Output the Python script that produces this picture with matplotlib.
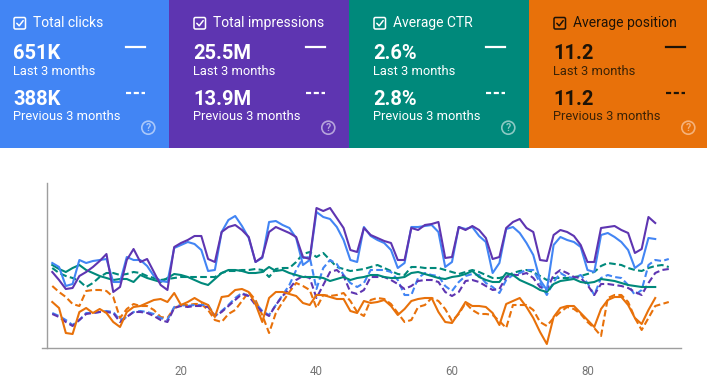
import numpy as np
import matplotlib
matplotlib.use("Agg")
import matplotlib.pyplot as plt
from matplotlib.patches import Rectangle, FancyBboxPatch, Circle

plt.rcParams['font.family'] = ['Roboto', 'DejaVu Sans']

# summary tiles
tile_titles = ["Total clicks", "Total impressions", "Average CTR", "Average position"]
last_vals = ["651K", "25.5M", "2.6%", "11.2"]
prev_vals = ["388K", "13.9M", "2.8%", "11.2"]
last_label = "Last 3 months"
prev_label = "Previous 3 months"
tile_colors = ["#4285f4", "#5e35b1", "#00897b", "#e8710a"]

# daily values, chart height units (no y scale shown)
clicks_last = [85, 81, 62, 64, 88, 85, 87, 88, 89, 66, 66, 91, 88, 88, 82, 72, 67, 66, 100, 103,
               106, 104, 98, 77, 78, 116, 128, 132, 122, 110, 86, 90, 126, 127, 123, 120, 110, 83, 88, 136,
               131, 129, 121, 108, 88, 86, 121, 112, 108, 105, 98, 80, 85, 121, 121, 122, 123, 116, 81, 86,
               121, 119, 121, 112, 106, 75, 85, 119, 121, 115, 105, 93, 68, 58, 103, 111, 108, 106, 101, 78,
               76, 113, 115, 111, 106, 98, 80, 85, 110, 109]
impr_last = [76, 68, 59, 60, 72, 76, 81, 87, 94, 56, 61, 88, 99, 86, 89, 76, 63, 58, 101, 105,
             108, 112, 112, 89, 86, 116, 121, 123, 118, 111, 86, 91, 116, 121, 118, 115, 111, 91, 89, 140,
             137, 140, 130, 120, 98, 96, 120, 113, 110, 107, 105, 88, 88, 120, 118, 123, 124, 126, 90, 91,
             121, 118, 122, 118, 110, 89, 91, 120, 126, 129, 120, 116, 88, 87, 113, 118, 116, 112, 103, 86,
             86, 120, 121, 122, 118, 115, 95, 99, 131, 125]
ctr_last = [83, 79, 76, 80, 83, 78, 75, 72, 70, 68, 69, 69, 66, 73, 70, 68, 66, 70, 74, 73,
            71, 68, 65, 63, 69, 75, 78, 78, 77, 75, 75, 76, 81, 77, 78, 75, 73, 71, 71, 71,
            70, 67, 69, 71, 68, 70, 71, 73, 73, 71, 70, 70, 71, 75, 76, 74, 72, 70, 69, 71,
            72, 74, 77, 71, 68, 66, 66, 75, 73, 68, 65, 62, 58, 56, 64, 67, 68, 69, 66, 65,
            66, 69, 68, 67, 65, 63, 62, 61, 61, 61]
pos_last = [46, 40, 15, 14, 36, 40, 35, 39, 35, 26, 21, 36, 41, 42, 45, 48, 49, 46, 55, 43,
            46, 50, 46, 43, 31, 51, 52, 58, 59, 56, 44, 26, 50, 56, 56, 54, 52, 45, 43, 53,
            53, 51, 49, 49, 37, 35, 47, 45, 46, 48, 42, 33, 39, 47, 49, 50, 50, 36, 26, 25,
            35, 46, 42, 42, 41, 35, 23, 44, 47, 50, 41, 30, 16, 4, 31, 40, 42, 42, 35, 28,
            21, 39, 48, 51, 51, 43, 30, 24, 38, 50]

clicks_prev = [35, 32, 28, 23, 28, 35, 35, 36, 37, 36, 28, 31, 36, 37, 36, 34, 30, 28, 41, 43,
               42, 43, 43, 43, 32, 37, 43, 50, 55, 52, 45, 37, 33, 43, 53, 63, 78, 90, 91, 59,
               80, 88, 84, 73, 65, 61, 65, 78, 78, 78, 76, 68, 53, 53, 70, 75, 73, 72, 62, 57,
               66, 72, 74, 73, 65, 61, 55, 68, 73, 75, 78, 78, 65, 53, 66, 75, 71, 70, 73, 65,
               53, 70, 73, 71, 70, 63, 53, 58, 83, 88, 87, 89]
impr_prev = [34, 31, 26, 22, 28, 34, 35, 36, 36, 35, 26, 31, 36, 36, 35, 32, 28, 26, 40, 42,
             41, 42, 42, 41, 32, 36, 42, 48, 54, 52, 43, 36, 32, 43, 52, 59, 68, 72, 70, 50,
             63, 76, 78, 72, 56, 54, 58, 71, 71, 71, 68, 64, 59, 62, 67, 68, 68, 66, 56, 52,
             56, 67, 68, 66, 62, 58, 59, 71, 73, 73, 75, 70, 61, 58, 73, 78, 75, 71, 70, 63,
             53, 64, 64, 63, 62, 60, 56, 53, 65, 75, 78, 79]
ctr_prev = [80, 75, 72, 70, 67, 61, 65, 71, 75, 75, 73, 74, 76, 75, 72, 70, 68, 69, 70, 71,
            71, 71, 71, 71, 71, 75, 77, 77, 78, 78, 79, 78, 71, 79, 80, 80, 86, 94, 96, 91,
            95, 88, 81, 79, 77, 78, 79, 81, 83, 80, 77, 74, 73, 81, 81, 80, 80, 80, 78, 76,
            74, 76, 78, 76, 73, 70, 70, 72, 75, 77, 78, 76, 72, 68, 70, 70, 70, 71, 72, 74,
            76, 82, 85, 84, 83, 80, 78, 77, 80, 82, 83, 81]
pos_prev = [62, 56, 51, 44, 42, 57, 58, 58, 57, 51, 30, 39, 44, 42, 42, 38, 31, 30, 40, 43,
            43, 44, 44, 38, 28, 26, 34, 38, 47, 56, 48, 33, 15, 35, 46, 56, 65, 62, 58, 40,
            53, 52, 53, 55, 47, 36, 32, 48, 50, 49, 44, 35, 26, 28, 41, 43, 50, 47, 39, 27,
            34, 45, 38, 34, 34, 33, 27, 20, 43, 43, 43, 38, 26, 22, 30, 36, 41, 39, 34, 26,
            20, 12, 50, 53, 53, 46, 30, 18, 30, 42, 44, 46]

days_last = np.arange(1, len(clicks_last) + 1)
days_prev = np.arange(1, len(clicks_prev) + 1)
xticks = [20, 40, 60, 80]

W, H = 707, 392
fig = plt.figure(figsize=(W / 100, H / 100), dpi=100)

# background layer in pixel units for the tiles
bg = fig.add_axes([0, 0, 1, 1])
bg.set_xlim(0, W)
bg.set_ylim(H, 0)
bg.axis("off")

tile_left = [-11, 169, 349, 529]
for k in range(4):
    x0 = tile_left[k]
    bg.add_patch(Rectangle((x0, 0), 180, 148, color=tile_colors[k], lw=0))
    dark = k == 3
    fg = "#1d1307" if dark else "white"
    sub = "#3a2206" if dark else "white"
    icon = "#f5b27a" if dark else (1, 1, 1, 0.55)
    # checkbox
    bg.add_patch(FancyBboxPatch((x0 + 25, 17.5), 11.5, 11.5,
                                boxstyle="round,pad=0,rounding_size=1.5",
                                fill=False, ec=fg, lw=1.1))
    bg.plot([x0 + 27.8, x0 + 30.2, x0 + 34.2], [23.3, 25.8, 20.6], color=fg, lw=1.1,
            solid_capstyle="round")
    bg.text(x0 + 44, 27.3, tile_titles[k], color=fg, fontsize=10, va="baseline", ha="left")
    bg.text(x0 + 24.3, 58.5, last_vals[k], color=fg, fontsize=14.5, fontweight="bold",
            va="baseline", ha="left")
    bg.text(x0 + 24.3, 75, last_label, color=sub, fontsize=9.3, va="baseline", ha="left")
    bg.text(x0 + 24.3, 104.5, prev_vals[k], color=fg, fontsize=14.5, fontweight="bold",
            va="baseline", ha="left")
    bg.text(x0 + 24.3, 120.3, prev_label, color=sub, fontsize=9.3, va="baseline", ha="left")
    # line style keys
    bg.plot([x0 + 137, x0 + 156], [46.5, 46.5], color=fg, lw=1.6)
    bg.plot([x0 + 137, x0 + 156], [93, 93], color=fg, lw=1.6, dashes=(2.3, 1.2))
    # help icon
    bg.add_patch(Circle((x0 + 159.3, 127.7), 6.5, fill=False, ec=icon, lw=1.2))
    bg.text(x0 + 159.3, 128.2, "?", color=icon, fontsize=7.5, fontweight="bold",
            ha="center", va="center")

# line chart
ax = fig.add_axes([41.7 / W, 1 - 348 / H, (680.7 - 41.7) / W, 165 / H])
ax.set_xlim(-0.56, 93.76)
ax.set_ylim(0, 165)
ax.patch.set_alpha(0)

lw = 1.5
dash = (3.2, 1.6)
ax.plot(days_prev, pos_prev, color="#e8710a", lw=lw, dashes=dash)
ax.plot(days_prev, ctr_prev, color="#00897b", lw=lw, dashes=dash)
ax.plot(days_prev, clicks_prev, color="#4285f4", lw=lw, dashes=dash)
ax.plot(days_prev, impr_prev, color="#5e35b1", lw=lw, dashes=dash)
ax.plot(days_last, pos_last, color="#e8710a", lw=lw)
ax.plot(days_last, ctr_last, color="#00897b", lw=lw)
ax.plot(days_last, clicks_last, color="#4285f4", lw=lw)
ax.plot(days_last, impr_last, color="#5e35b1", lw=lw)

for s in ["top", "right"]:
    ax.spines[s].set_visible(False)
ax.spines["left"].set_position(("data", 0.18))
ax.spines["left"].set_color("#9e9e9e")
ax.spines["bottom"].set_color("#9e9e9e")
ax.spines["left"].set_linewidth(1.0)
ax.spines["bottom"].set_linewidth(1.0)
ax.set_yticks([])
ax.set_xticks(xticks)
ax.tick_params(axis="x", length=0, pad=12, labelsize=8.3, labelcolor="#757575")

fig.savefig("out.png", dpi=100)
